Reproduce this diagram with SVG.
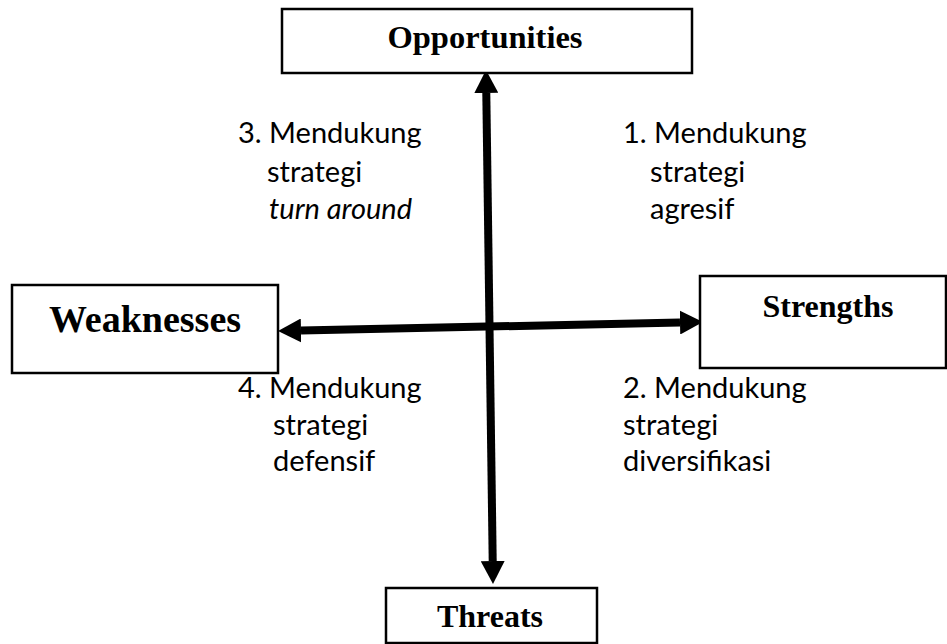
<svg xmlns="http://www.w3.org/2000/svg" width="947" height="644" viewBox="0 0 947 644">
<style>
.box{fill:#fff;stroke:#000;stroke-width:2.5}
.title{font-family:"Liberation Serif","Times New Roman",serif;font-weight:bold;fill:#000;text-anchor:middle}
.lbl{font-family:Lato,"Liberation Sans",sans-serif;font-size:29px;fill:#000}
.conn{stroke:#000;stroke-width:8;fill:none;marker-start:url(#ah);marker-end:url(#ah)}
</style>
<defs>
<marker id="ah" markerUnits="userSpaceOnUse" markerWidth="24" markerHeight="24" refX="0" refY="12" orient="auto-start-reverse" viewBox="0 0 24 24">
<path d="M0,0 L23,12 L0,24 z" fill="#000"/>
</marker>
</defs>
<rect width="947" height="644" fill="#fff"/>
<g id="connectors">
<line class="conn" x1="486.3" y1="93" x2="492.7" y2="561"/>
<line class="conn" x1="301" y1="330.5" x2="680" y2="322.5"/>
</g>
<g id="opportunities">
<rect class="box" x="282" y="9" width="410" height="64"/>
<text class="title" x="485" y="48" font-size="32.5">Opportunities</text>
</g>
<g id="weaknesses">
<rect class="box" x="12" y="285" width="266" height="88"/>
<text class="title" x="145" y="332" font-size="38">Weaknesses</text>
</g>
<g id="strengths">
<rect class="box" x="700" y="276" width="246" height="92"/>
<text class="title" x="828" y="317" font-size="32">Strengths</text>
</g>
<g id="threats">
<rect class="box" x="386" y="588" width="211" height="55"/>
<text class="title" x="490" y="627" font-size="32">Threats</text>
</g>
<g id="q3">
<text class="lbl" x="238" y="143">3. Mendukung</text>
<text class="lbl" x="267" y="182">strategi</text>
<text class="lbl" x="269" y="219" font-style="italic">turn around</text>
</g>
<g id="q1">
<text class="lbl" x="623" y="143">1. Mendukung</text>
<text class="lbl" x="650" y="182">strategi</text>
<text class="lbl" x="650" y="219">agresif</text>
</g>
<g id="q4">
<text class="lbl" x="238" y="398">4. Mendukung</text>
<text class="lbl" x="273" y="435">strategi</text>
<text class="lbl" x="273" y="471">defensif</text>
</g>
<g id="q2">
<text class="lbl" x="623" y="398">2. Mendukung</text>
<text class="lbl" x="623" y="435">strategi</text>
<text class="lbl" x="623" y="471">diversifikasi</text>
</g>
</svg>
